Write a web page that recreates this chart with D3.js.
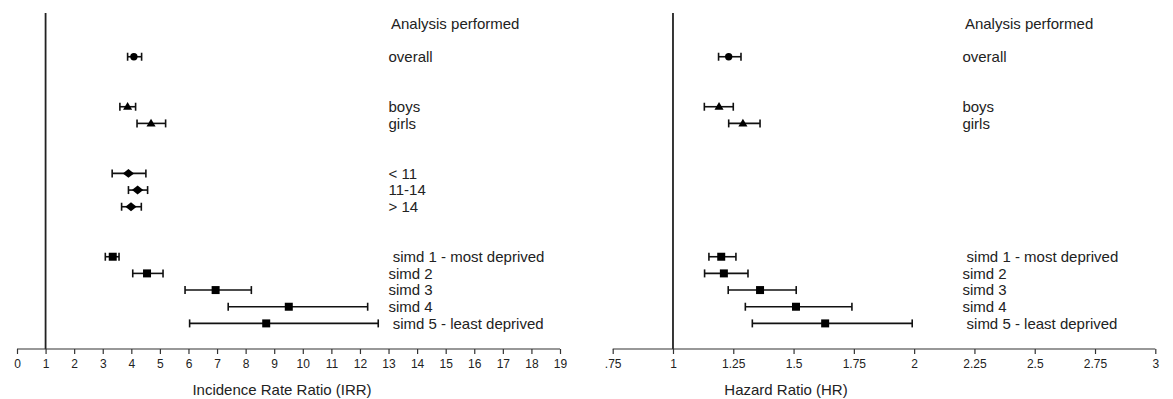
<!DOCTYPE html>
<html>
<head>
<meta charset="utf-8">
<script src="https://cdn.jsdelivr.net/npm/d3@7"></script>
<style>
  body { margin: 0; background: #fff; }
  svg { display: block; font-family: "Liberation Sans", Arial, sans-serif; }
</style>
</head>
<body>
<div id="chart"></div>
<script>
// Forest plots: IRR (left) and HR (right) by analysis subgroup
const rowLabels = ['overall', 'boys', 'girls', '< 11', '11-14', '> 14',
    ' simd 1 - most deprived', 'simd 2', 'simd 3', 'simd 4', ' simd 5 - least deprived'];
const rowIndex = [3, 6, 7, 10, 11, 12, 15, 16, 17, 18, 19];
const rowShape = ['circle', 'triangle', 'triangle', 'diamond', 'diamond', 'diamond',
    'square', 'square', 'square', 'square', 'square'];

const irrEst  = [4.09, 3.87, 4.69, 3.90, 4.22, 3.99, 3.35, 4.55, 6.95, 9.51, 8.72];
const irrLow  = [3.87, 3.60, 4.20, 3.33, 3.90, 3.66, 3.09, 4.05, 5.88, 7.39, 6.04];
const irrHigh = [4.36, 4.15, 5.20, 4.51, 4.57, 4.35, 3.57, 5.11, 8.20, 12.27, 12.64];

// age groups were not analysed for hazard ratios
const hrEst  = [1.231, 1.191, 1.290, null, null, null, 1.200, 1.211, 1.361, 1.510, 1.631];
const hrLow  = [1.189, 1.130, 1.231, null, null, null, 1.149, 1.131, 1.229, 1.300, 1.329];
const hrHigh = [1.282, 1.250, 1.361, null, null, null, 1.261, 1.311, 1.511, 1.742, 1.992];

const irrTicks = d3.range(0, 20);
const hrTicks = [0.75, 1, 1.25, 1.5, 1.75, 2, 2.25, 2.5, 2.75, 3];

const width = 1173;
const height = 399;

const svg = d3.select('#chart')
    .append('svg')
    .attr('width', width)
    .attr('height', height);

// Shared row scale (header on row 1)
const y = d3.scaleLinear()
    .domain([1, 19])
    .range([23.4, 323.4]);
const axisY = 349;

const shapes = {
    circle:   d3.symbol().type(d3.symbolCircle).size(42),
    triangle: d3.symbol().type(d3.symbolTriangle).size(36),
    diamond:  d3.symbol().type(d3.symbolSquare).size(44),
    square:   d3.symbol().type(d3.symbolSquare).size(64)
};

function drawPanel(opt) {
    const x = d3.scaleLinear().domain(opt.domain).range(opt.range);
    const g = svg.append('g');

    // reference line at ratio 1
    g.append('line')
        .attr('x1', x(1)).attr('x2', x(1))
        .attr('y1', 13).attr('y2', axisY)
        .attr('stroke', '#222')
        .attr('stroke-width', 1.8);

    // x axis
    const axis = d3.axisBottom(x)
        .tickValues(opt.ticks)
        .tickSize(5)
        .tickPadding(5)
        .tickFormat(opt.format);
    const ax = g.append('g')
        .attr('transform', `translate(0,${axisY})`)
        .call(axis);
    ax.select('.domain').attr('stroke', '#333').attr('stroke-width', 1.2)
        .attr('d', `M${x(opt.domain[0])},0H${x(opt.domain[1])}`);
    ax.selectAll('.tick line').attr('stroke', '#333').attr('stroke-width', 1.2);
    ax.selectAll('.tick text')
        .attr('fill', '#222')
        .style('font-size', '12px')
        .style('font-family', '"Liberation Sans", Arial, sans-serif');

    g.append('text')
        .attr('x', opt.titleX)
        .attr('y', 395)
        .attr('text-anchor', 'middle')
        .style('font-size', '15px')
        .attr('fill', '#222')
        .text(opt.title);

    const rows = rowLabels.map((label, i) => ({
        label, row: rowIndex[i], shape: rowShape[i],
        est: opt.est[i], lo: opt.low[i], hi: opt.high[i]
    })).filter(d => d.est != null);

    const ci = g.selectAll('.ci').data(rows).enter().append('g').attr('class', 'ci');
    ci.append('line')
        .attr('x1', d => x(d.lo)).attr('x2', d => x(d.hi))
        .attr('y1', d => y(d.row)).attr('y2', d => y(d.row))
        .attr('stroke', '#111').attr('stroke-width', 1.6);
    ci.append('line')
        .attr('x1', d => x(d.lo)).attr('x2', d => x(d.lo))
        .attr('y1', d => y(d.row) - 4).attr('y2', d => y(d.row) + 4)
        .attr('stroke', '#111').attr('stroke-width', 1.6);
    ci.append('line')
        .attr('x1', d => x(d.hi)).attr('x2', d => x(d.hi))
        .attr('y1', d => y(d.row) - 4).attr('y2', d => y(d.row) + 4)
        .attr('stroke', '#111').attr('stroke-width', 1.6);
    ci.append('path')
        .attr('d', d => shapes[d.shape]())
        .attr('transform', d => `translate(${x(d.est)},${y(d.row) + (d.shape === 'triangle' ? 0.5 : 0)})` +
            (d.shape === 'diamond' ? ' scale(1.2,0.95) rotate(45)' : ''))
        .attr('fill', '#000');

    // labels column
    g.append('text')
        .attr('x', x(opt.labelAt) + 2.5)
        .attr('y', y(1))
        .attr('dy', '0.35em')
        .style('font-size', '15px')
        .attr('fill', '#222')
        .text('Analysis performed');

    g.selectAll('.lab').data(rows).enter().append('text')
        .attr('x', x(opt.labelAt))
        .attr('y', d => y(d.row))
        .attr('dy', '0.35em')
        .style('font-size', '15px')
        .style('white-space', 'pre')
        .attr('fill', '#222')
        .text(d => d.label);
}

drawPanel({
    domain: [0, 19], range: [17, 560],
    ticks: irrTicks, format: d3.format('d'),
    est: irrEst, low: irrLow, high: irrHigh,
    labelAt: 13.0, title: 'Incidence Rate Ratio (IRR)', titleX: 282
});

drawPanel({
    domain: [0.75, 3], range: [612.7, 1155.3],
    ticks: hrTicks, format: d => (d < 1 ? String(d).replace('0.', '.') : String(d)),
    est: hrEst, low: hrLow, high: hrHigh,
    labelAt: 2.2, title: 'Hazard Ratio (HR)', titleX: 786
});
</script>
</body>
</html>
